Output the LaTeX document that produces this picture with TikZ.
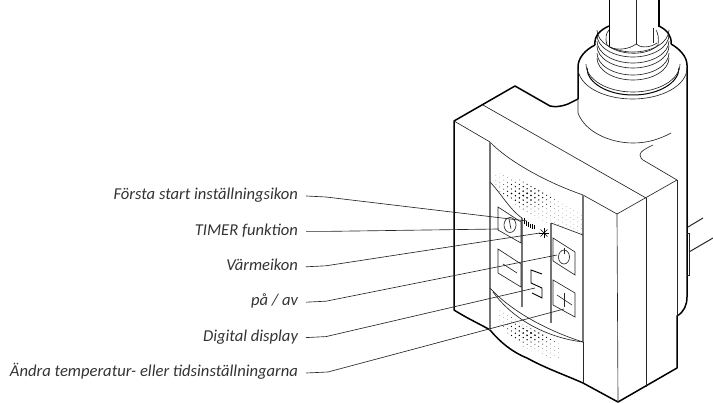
\documentclass[tikz,border=0pt]{standalone}
\usepackage{fontspec}
\setmainfont{Carlito}
\usetikzlibrary{positioning, calc}
\definecolor{panelgray}{gray}{0.45}
\tikzset{
  heavy/.style={line width=1.5pt,line join=round},
  fine/.style={line width=0.65pt,black!85},
  seam/.style={line width=1.1pt,panelgray},
  leader/.style={line width=0.65pt,black!85},
  lbl/.style={font=\itshape\fontsize{16.6}{18}\selectfont,text=black!80,inner sep=0pt,outer xsep=8pt,anchor=east,text height=11pt,text depth=3.5pt},
}
\begin{document}
\begin{tikzpicture}[x=1pt,y=-1pt]
        \useasboundingbox (0,0) rectangle (713,403);
        % speaker dots
        \begin{scope}
        \clip (494,172) .. controls (520,178) and (560,195) .. (583,215) -- (583,235) .. controls (560,226) and (535,225) .. (494,186) -- cycle;
        \foreach \i in {0,...,24} \foreach \j in {0,...,14} {
            \pgfmathsetmacro{\dotx}{492+3.9*\i}
            \pgfmathsetmacro{\doty}{160+4.5*\j+2.2*\i}
            \pgfmathsetmacro{\dotr}{max(0.25,1.05-sqrt(((\dotx-525)/38)^2+((\doty-195)/20)^2)*0.8)}
            \fill (\dotx,\doty) circle[radius=\dotr];
        }
        \end{scope}
        \begin{scope}
        \clip (498,306) .. controls (520,328) and (555,338) .. (560,343) -- (560,358) .. controls (540,360) and (515,345) .. (498,322) -- cycle;
        \foreach \i in {0,...,24} \foreach \j in {0,...,14} {
            \pgfmathsetmacro{\dotx}{492+3.9*\i}
            \pgfmathsetmacro{\doty}{295+4.5*\j+2.2*\i-20}
            \pgfmathsetmacro{\dotr}{max(0.25,1.05-sqrt(((\dotx-530)/38)^2+((\doty-333)/18)^2)*0.8)}
            \fill (\dotx,\doty) circle[radius=\dotr];
        }
        \end{scope}
        % housing
        \draw[heavy] (578,99) -- (568,104) .. controls (560,107) and (555,107) .. (550,106) -- (515,86) -- (454,121) -- (454,310)
            .. controls (470,320) and (482,325) .. (490,330) .. controls (500,342) and (512,352) .. (527,358)
            .. controls (545,368) and (565,375) .. (583,383) -- (618,402) -- (677,368) -- (677,316)
            .. controls (684,312) and (687,305) .. (687,297) -- (687,65) .. controls (687,57) and (680,49) .. (671,44);
        \draw[heavy] (578,99) -- (578,67) .. controls (578,58) and (585,50) .. (595,45);
        \draw[fine] (454,121) -- (490,142) .. controls (505,158) and (540,180) .. (583,195) -- (617,214) -- (677,180);
        \draw[fine] (483,105) -- (646,198);
        \draw[fine] (617,214) -- (618,402);
        \draw[fine] (646,198) -- (646,387);
        \draw[fine] (677,180) -- (677,316);
        \draw[fine] (583,195) -- (583,383);
        % cylinder and thread
        \draw[fine] (578,99) -- (578,113) .. controls (585,132) and (610,143) .. (633,143) .. controls (648,143) and (660,139) .. (671,133);
        \draw[fine] (653,145) .. controls (647,148) and (640,151) .. (640,155) .. controls (640,158) and (642,159) .. (643,160) -- (677,180);
        \draw[fine] (578,68) arc[start angle=180,end angle=0,x radius=54.5,y radius=31];
        \draw[line width=1pt] (587,68) arc[start angle=180,end angle=0,x radius=46,y radius=27];
        \draw[fine] (586,64) arc[start angle=180,end angle=0,x radius=47,y radius=28];
        \foreach \ty in {30,35,41,46,53,58} {
            \draw[fine] (597,\ty) arc[start angle=180,end angle=0,x radius=36,y radius=22];
        }
        \draw[heavy] (595,45) .. controls (594,36) and (600,30) .. (609,26);
        \draw[heavy] (671,44) .. controls (672,36) and (667,30) .. (659,26);
        \draw[fine] (609,30) .. controls (606,33) and (605,38) .. (607,45);
        \draw[fine] (656,30) .. controls (658,33) and (659,38) .. (658,45);
        % pipe
        \draw[heavy] (609.5,0) -- (609.5,47);
        \draw[heavy] (659,0) -- (659,27);
        \draw[fine] (636,0) -- (636,44);
        \draw[fine] (653,28) -- (653,43);
        \draw[fine] (609.5,47) .. controls (617,51) and (630,49) .. (636,44) .. controls (640,48) and (650,48) .. (657,43);
        \draw[fine] (607,45) .. controls (620,56) and (648,56) .. (658,45);
        % cables
        \draw[fine,line width=1pt] (688,227) -- (703,218);
        \draw[fine,line width=1pt] (689,252) -- (713,238);
        \draw[fine] (687,233) -- (689,233) -- (689,275) -- (687,275);
        % panel
        \draw[seam] (490,142) -- (490,330);
        \draw[seam] (522,218) -- (522,307);
        \draw[seam] (551,223) -- (551,323);
        \draw[seam] (583,195) -- (583,342);
        \draw[fine] (490,182) .. controls (500,192) and (510,210) .. (522,218);
        \draw[fine] (551,223) -- (583,235);
        \draw[fine] (490,288) .. controls (510,310) and (545,330) .. (583,342);
        \draw[fine] (493,292) .. controls (515,322) and (550,338) .. (583,342);
        % buttons
        \draw[fine] (498,207) -- (521,222) -- (521,243) -- (498,230) -- cycle;
        \draw[fine] (498,249) -- (521,264) -- (521,287) -- (498,273) -- cycle;
        \draw[fine] (553,238) -- (575,252) -- (575,275) -- (553,261) -- cycle;
        \draw[fine] (553,280) -- (575,293) -- (575,317) -- (553,305) -- cycle;
        \draw[fine] (510,225) ellipse[x radius=6,y radius=7.5];
        \draw[fine] (509,219) -- (511,229);
        \draw[fine] (564,257) ellipse[x radius=5.5,y radius=7];
        \draw[fine] (564,248) -- (564,254);
        \draw[fine] (503,264) -- (517,273);
        \draw[fine] (557,295) -- (572,305);
        \draw[fine] (564,293) -- (564,307);
        % segment digit
        \draw[line width=0.9pt] (542,274) -- (531,270) -- (531,283) -- (542,288) -- (542,298) -- (532,293);
        % small icons
        \draw[line width=0.5pt] (524,218) -- (524,224) (526,221) -- (526,226) (528,222) -- (528,227) (530,224) -- (530,228) (532,224) -- (532,229) (534,225) -- (534,229);
        \foreach \a in {0,45,...,315} {
            \draw[line width=0.5pt] (544,233) -- ++(\a:5);
        }
        % labels
        \node[lbl] (forsta) at (306,196) {Första start inställningsikon};
        \node[lbl, below=35.4pt of forsta.east, anchor=east] (timer) {TIMER funktion};
        \node[lbl, below=35.4pt of timer.east, anchor=east] (varme) {Värmeikon};
        \node[lbl, below=35.4pt of varme.east, anchor=east] (paav) {på / av};
        \node[lbl, below=35.4pt of paav.east, anchor=east] (digital) {Digital display};
        \node[lbl, below=35.4pt of digital.east, anchor=east] (andra) {Ändra temperatur- eller tidsinställningarna};
        \coordinate (forstaicon) at (527,221);
        \coordinate (timerbtn) at (499,229);
        \coordinate (varmeicon) at (540,233);
        \coordinate (paavbtn) at (557,255);
        \coordinate (digit) at (535,288);
        \coordinate (plusbtn) at (564,309);
        \draw[leader] (forsta.east) -- ++(20,1) -- (forstaicon);
        \draw[leader] (timer.east) -- ++(20,0) -- (timerbtn);
        \draw[leader] (varme.east) -- ++(20,-1) -- (varmeicon);
        \draw[leader] (paav.east) -- ++(20,-1) -- (paavbtn);
        \draw[leader] (digital.east) -- ++(20,-1) -- (digit);
        \draw[leader] (andra.east) -- ++(22,-1) -- (plusbtn);
        \end{tikzpicture}
\end{document}
